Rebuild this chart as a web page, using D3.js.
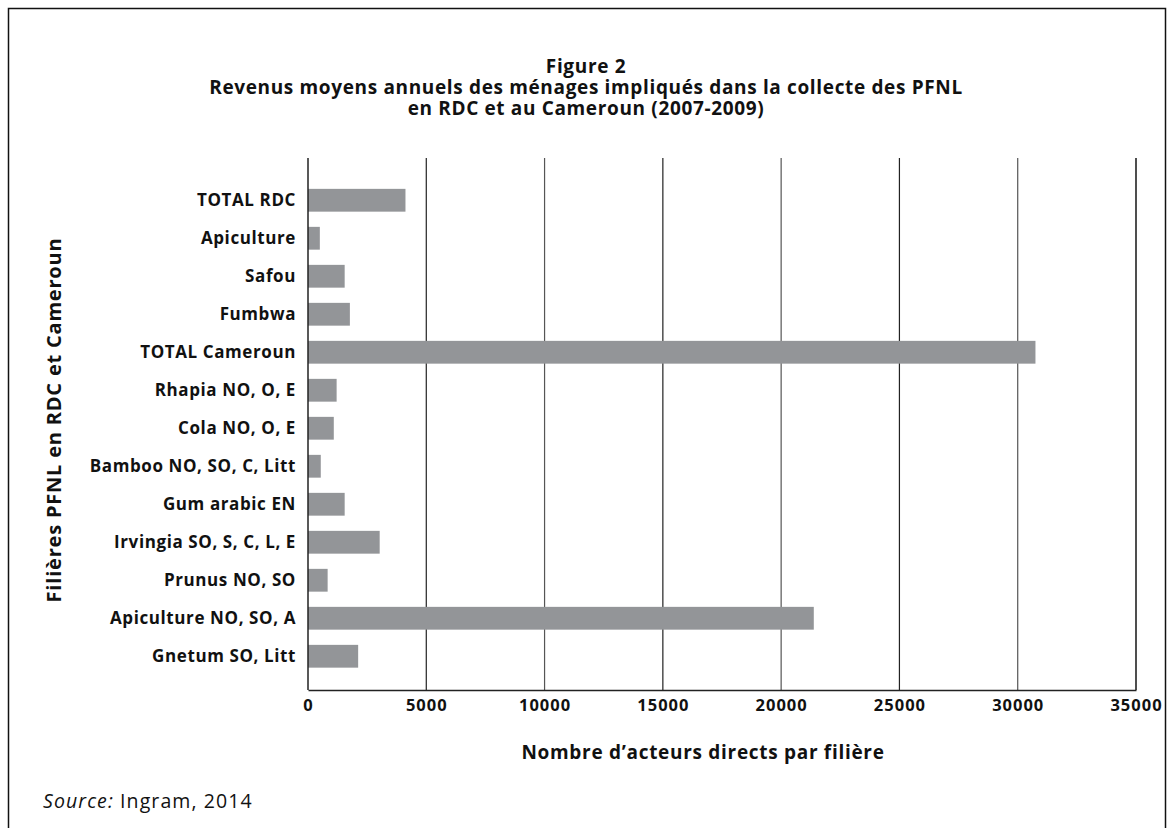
<!DOCTYPE html>
<html>
<head>
<meta charset="utf-8">
<script src="https://cdn.jsdelivr.net/npm/d3@7"></script>
<style>
  body { margin: 0; background: #fff; }
  text { font-family: "Open Sans", "Noto Sans", sans-serif; fill: #111; }
</style>
</head>
<body>
<div id="chart"></div>
<script>
// data
var categories = [
  "TOTAL RDC", "Apiculture", "Safou", "Fumbwa", "TOTAL Cameroun",
  "Rhapia NO, O, E", "Cola NO, O, E", "Bamboo NO, SO, C, Litt",
  "Gum arabic EN", "Irvingia SO, S, C, L, E", "Prunus NO, SO",
  "Apiculture NO, SO, A", "Gnetum SO, Litt"
];
var values = [4120, 500, 1550, 1770, 30750, 1210, 1090, 540, 1550, 3030, 830, 21380, 2120];
var xTicks = [0, 5000, 10000, 15000, 20000, 25000, 30000, 35000];

var titleLines = [
  "Figure 2",
  "Revenus moyens annuels des ménages impliqués dans la collecte des PFNL",
  "en RDC et au Cameroun (2007-2009)"
];

var svgWidth = 1173;
var svgHeight = 828;

var plot = { left: 308, right: 1136, top: 158, bottom: 690 };

var svg = d3.select("#chart")
  .append("svg")
  .attr("width", svgWidth)
  .attr("height", svgHeight);

// outer frame
svg.append("rect")
  .attr("x", 8.5)
  .attr("y", 8.5)
  .attr("width", 1157)
  .attr("height", 840)
  .attr("fill", "none")
  .attr("stroke", "#111")
  .attr("stroke-width", 1.5);

// title
svg.append("g")
  .selectAll("text")
  .data(titleLines)
  .enter()
  .append("text")
  .attr("x", 586)
  .attr("y", (d, i) => 73 + i * 21)
  .attr("text-anchor", "middle")
  .style("font-size", "19px")
  .style("letter-spacing", "0.65px")
  .style("font-weight", "bold")
  .text(d => d);

// scales
var x = d3.scaleLinear()
  .domain([0, 35000])
  .range([plot.left, plot.right]);

var y = d3.scaleBand()
  .domain(categories)
  .range([plot.top, plot.bottom])
  .paddingInner(0.4)
  .paddingOuter(0.7)
  .align(0.58);

// vertical gridlines
svg.append("g")
  .selectAll("line")
  .data(xTicks.slice(1))
  .enter()
  .append("line")
  .attr("x1", d => x(d))
  .attr("x2", d => x(d))
  .attr("y1", plot.top)
  .attr("y2", plot.bottom)
  .attr("stroke", (d, i) => i % 2 ? "#555" : "#222")
  .attr("stroke-width", (d, i) => d === 35000 ? 1.6 : 1.2);

// bars
svg.append("g")
  .selectAll("rect")
  .data(values)
  .enter()
  .append("rect")
  .attr("x", x(0))
  .attr("y", (d, i) => y(categories[i]))
  .attr("width", d => x(d) - x(0))
  .attr("height", y.bandwidth())
  .attr("fill", "#939598");

// x axis
var xAxis = d3.axisBottom(x)
  .tickValues(xTicks)
  .tickSize(0)
  .tickPadding(9)
  .tickFormat(d3.format("d"));

var xAxisG = svg.append("g")
  .attr("transform", `translate(0, ${plot.bottom})`)
  .call(xAxis);
xAxisG.select(".domain").attr("stroke", "#222").attr("stroke-width", 1.5);
xAxisG.selectAll("text")
  .style("font-family", "'Open Sans', sans-serif")
  .style("font-size", "16.5px")
  .style("letter-spacing", "1px")
  .style("font-weight", "bold")
  .attr("fill", "#111");

// y axis
var yAxis = d3.axisLeft(y).tickSize(0).tickPadding(12);
var yAxisG = svg.append("g")
  .attr("transform", `translate(${plot.left}, 0)`)
  .call(yAxis);
yAxisG.select(".domain")
  .attr("d", `M0,${plot.top}V${plot.bottom}`)
  .attr("stroke", "#222")
  .attr("stroke-width", 1.5);
yAxisG.selectAll("text")
  .style("font-family", "'Open Sans', sans-serif")
  .style("font-size", "17px")
  .style("letter-spacing", "0.6px")
  .style("font-weight", "bold")
  .attr("fill", "#111");

// axis titles
svg.append("text")
  .attr("x", 703)
  .attr("y", 759)
  .attr("text-anchor", "middle")
  .style("font-size", "19px")
  .style("letter-spacing", "0.7px")
  .style("font-weight", "bold")
  .text("Nombre d\u2019acteurs directs par filière");

svg.append("text")
  .attr("transform", "rotate(-90)")
  .attr("x", -420)
  .attr("y", 61)
  .attr("text-anchor", "middle")
  .style("font-size", "20px")
  .style("letter-spacing", "0.8px")
  .style("font-weight", "bold")
  .text("Filières PFNL en RDC et Cameroun");

// source
var src = svg.append("text")
  .attr("x", 43)
  .attr("y", 808)
  .style("font-size", "19.5px")
  .style("letter-spacing", "1.1px");
src.append("tspan").style("font-style", "italic").text("Source:");
src.append("tspan").text(" Ingram, 2014");
</script>
</body>
</html>
